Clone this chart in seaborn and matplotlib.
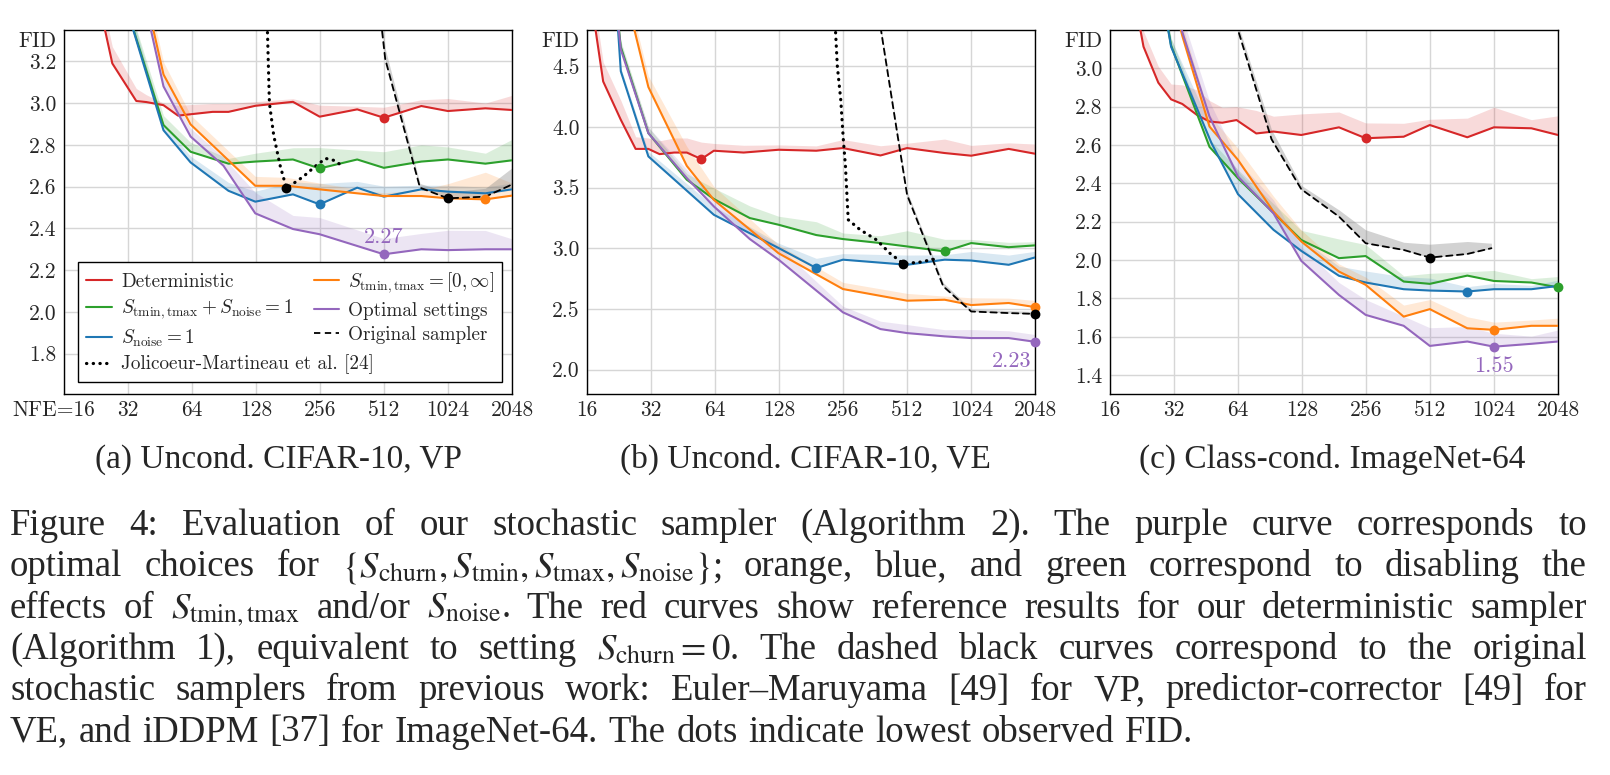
"""Stochastic sampler evaluation: FID vs NFE for three setups, with caption."""

import re

import matplotlib
matplotlib.use("Agg")
import matplotlib.pyplot as plt
import matplotlib.transforms as mtransforms
import numpy as np
import seaborn as sns
from matplotlib.lines import Line2D

# --------------------------------------------------------------------------- #
# Data
# --------------------------------------------------------------------------- #
NFE_TICKS = [16, 32, 64, 128, 256, 512, 1024, 2048]

# (a) Uncond. CIFAR-10, VP
A_RED_NFE = [19, 27, 35, 39, 47, 55, 80, 95, 127, 191, 255, 383, 511, 767, 1023, 1535, 2047]
A_RED_FID = [3.90, 3.19, 3.01, 3.005, 2.99, 2.94, 2.958, 2.958, 2.987, 3.006, 2.935, 2.97, 2.93,
             2.986, 2.962, 2.975, 2.967]
A_RED_SPREAD = [0.08, 0.08, 0.06, 0.035, 0.01, 0.05, 0.04, 0.04, 0.02, 0.015, 0.055, 0.015, 0.05,
                0.03, 0.06, 0.025, 0.07]

A_GREEN_NFE = [27, 31, 47, 63, 95, 127, 191, 255, 383, 511, 767, 1023, 1535, 2047]
A_GREEN_FID = [3.90, 3.48, 2.895, 2.767, 2.71, 2.72, 2.73, 2.687, 2.73, 2.69, 2.72, 2.73, 2.71, 2.726]
A_GREEN_SPREAD = [0.05, 0.05, 0.045, 0.045, 0.025, 0.04, 0.056, 0.1, 0.045, 0.077, 0.08, 0.06, 0.05, 0.1]

A_BLUE_NFE = [27, 31, 47, 63, 95, 127, 191, 255, 383, 511, 767, 1023, 1535, 2047]
A_BLUE_FID = [3.90, 3.48, 2.87, 2.716, 2.58, 2.528, 2.563, 2.515, 2.595, 2.552, 2.587, 2.576, 2.568, 2.587]
A_BLUE_SPREAD = [0.05, 0.05, 0.03, 0.03, 0.04, 0.05, 0.06, 0.1, 0.03, 0.05, 0.02, 0.03, 0.03, 0.03]

A_ORANGE_NFE = [31, 39, 47, 63, 127, 179, 255, 383, 511, 767, 1023, 1535, 2047]
A_ORANGE_FID = [3.90, 3.50, 3.137, 2.898, 2.604, 2.604, 2.587, 2.568, 2.555, 2.555, 2.544, 2.539, 2.557]
A_ORANGE_SPREAD = [0.06, 0.06, 0.06, 0.045, 0.045, 0.04, 0.03, 0.02, 0.015, 0.03, 0.07, 0.13, 0.06]

A_PURPLE_NFE = [31, 39, 47, 63, 90, 127, 191, 255, 511, 767, 1023, 1535, 2047]
A_PURPLE_FID = [4.00, 3.45, 3.08, 2.84, 2.70, 2.472, 2.397, 2.372, 2.276, 2.30, 2.296, 2.30, 2.30]
A_PURPLE_SPREAD = [0.05, 0.05, 0.05, 0.04, 0.04, 0.10, 0.065, 0.08, 0.075, 0.076, 0.095, 0.09, 0.05]

A_JM_NFE = [140, 148, 155, 166, 178, 213, 245, 272, 300, 329]
A_JM_FID = [3.90, 3.00, 2.847, 2.703, 2.592, 2.647, 2.70, 2.735, 2.725, 2.695]

A_ORIG_NFE = [470, 519, 756, 1023, 1535, 2047]
A_ORIG_FID = [3.60, 3.21, 2.595, 2.544, 2.552, 2.61]
A_ORIG_SPREAD = [0.05, 0.05, 0.02, 0.03, 0.04, 0.08]

# (b) Uncond. CIFAR-10, VE
B_RED_NFE = [17, 19, 23, 27, 31, 35, 41, 47, 55, 63, 87, 127, 191, 255, 383, 511, 767, 1023, 1535, 2047]
B_RED_FID = [4.95, 4.376, 4.06, 3.82, 3.82, 3.777, 3.79, 3.79, 3.736, 3.805, 3.79, 3.813, 3.805, 3.827,
             3.766, 3.827, 3.786, 3.764, 3.82, 3.78]
B_RED_SPREAD = [0.16, 0.16, 0.16, 0.1, 0.09, 0.11, 0.12, 0.12, 0.14, 0.06, 0.06, 0.04, 0.04, 0.07,
                0.08, 0.04, 0.115, 0.085, 0.05, 0.08]

B_GREEN_NFE = [21, 23, 31, 47, 63, 93, 127, 191, 255, 383, 511, 767, 1023, 1535, 2047]
B_GREEN_FID = [5.30, 4.66, 3.95, 3.566, 3.407, 3.25, 3.195, 3.11, 3.077, 3.044, 3.016, 2.975, 3.044,
               3.01, 3.025]
B_GREEN_SPREAD = [0.05, 0.05, 0.05, 0.05, 0.09, 0.10, 0.07, 0.11, 0.05, 0.06, 0.13, 0.10, 0.03, 0.04, 0.03]

B_BLUE_NFE = [21, 23, 31, 63, 127, 191, 255, 511, 767, 1023, 1535, 2047]
B_BLUE_FID = [5.50, 4.46, 3.758, 3.277, 3.003, 2.838, 2.907, 2.865, 2.907, 2.90, 2.865, 2.926]
B_BLUE_SPREAD = [0.03, 0.03, 0.04, 0.07, 0.04, 0.08, 0.05, 0.08, 0.04, 0.075, 0.08, 0.05]

B_ORANGE_NFE = [25, 31, 47, 63, 127, 255, 511, 767, 1023, 1535, 2047]
B_ORANGE_FID = [5.00, 4.33, 3.68, 3.40, 2.96, 2.665, 2.569, 2.577, 2.533, 2.55, 2.516]
B_ORANGE_SPREAD = [0.09, 0.09, 0.16, 0.11, 0.07, 0.055, 0.06, 0.03, 0.06, 0.04, 0.055]

B_PURPLE_NFE = [21, 23, 31, 47, 63, 93, 127, 255, 383, 511, 767, 1023, 1535, 2047]
B_PURPLE_FID = [5.30, 4.64, 3.95, 3.58, 3.346, 3.077, 2.907, 2.473, 2.335, 2.302, 2.275, 2.261, 2.261, 2.23]
B_PURPLE_SPREAD = [0.05, 0.05, 0.05, 0.07, 0.06, 0.09, 0.11, 0.05, 0.065, 0.07, 0.055, 0.07, 0.06, 0.06]

B_JM_NFE = [232, 240, 249, 256, 262, 267, 270, 307, 367, 424, 491, 588, 690]
B_JM_FID = [5.00, 4.50, 4.225, 3.90, 3.68, 3.40, 3.236, 3.154, 3.07, 2.96, 2.874, 2.887, 2.912]

B_ORIG_NFE = [370, 385, 459, 511, 756, 1023, 1535, 2047]
B_ORIG_FID = [5.00, 4.80, 3.95, 3.44, 2.687, 2.48, 2.467, 2.46]
B_ORIG_SPREAD = [0.03, 0.03, 0.03, 0.03, 0.03, 0.02, 0.02, 0.02]

# (c) Class-cond. ImageNet-64
C_RED_NFE = [21, 23, 27, 31, 35, 41, 47, 54, 63, 78, 94, 127, 191, 255, 385, 511, 767, 1023, 1535, 2047]
C_RED_FID = [3.35, 3.113, 2.925, 2.838, 2.814, 2.757, 2.722, 2.716, 2.73, 2.66, 2.67, 2.652, 2.692,
             2.635, 2.643, 2.704, 2.64, 2.692, 2.687, 2.652]
C_RED_SPREAD = [0.08, 0.08, 0.085, 0.08, 0.1, 0.13, 0.11, 0.08, 0.07, 0.12, 0.08, 0.11, 0.08, 0.08,
                0.07, 0.03, 0.10, 0.105, 0.045, 0.10]

C_GREEN_NFE = [27, 31, 47, 64, 127, 191, 255, 385, 511, 767, 1023, 1535, 2047]
C_GREEN_FID = [3.50, 3.12, 2.59, 2.426, 2.104, 2.009, 2.02, 1.887, 1.875, 1.918, 1.89, 1.882, 1.857]
C_GREEN_SPREAD = [0.04, 0.04, 0.04, 0.045, 0.05, 0.10, 0.06, 0.03, 0.055, 0.02, 0.055, 0.02, 0.056]

C_BLUE_NFE = [27, 31, 48, 64, 94, 127, 191, 255, 385, 511, 767, 1023, 1535, 2047]
C_BLUE_FID = [3.50, 3.113, 2.61, 2.343, 2.157, 2.047, 1.917, 1.882, 1.847, 1.84, 1.835, 1.847, 1.847, 1.864]
C_BLUE_SPREAD = [0.04, 0.04, 0.08, 0.12, 0.10, 0.065, 0.05, 0.06, 0.065, 0.065, 0.025, 0.03, 0.02, 0.03]

C_ORANGE_NFE = [31, 35, 47, 64, 94, 127, 191, 255, 385, 511, 767, 1023, 1535, 2047]
C_ORANGE_FID = [3.40, 3.17, 2.696, 2.522, 2.252, 2.096, 1.939, 1.87, 1.704, 1.743, 1.643, 1.635, 1.656, 1.656]
C_ORANGE_SPREAD = [0.06, 0.06, 0.06, 0.06, 0.08, 0.06, 0.04, 0.04, 0.06, 0.05, 0.06, 0.04, 0.03, 0.04]

C_PURPLE_NFE = [31, 35, 47, 64, 94, 127, 191, 255, 385, 511, 767, 1023, 1535, 2047]
C_PURPLE_FID = [3.50, 3.19, 2.748, 2.435, 2.243, 1.995, 1.817, 1.713, 1.656, 1.551, 1.574, 1.547, 1.562, 1.574]
C_PURPLE_SPREAD = [0.08, 0.08, 0.08, 0.08, 0.07, 0.075, 0.065, 0.08, 0.05, 0.095, 0.078, 0.07, 0.04, 0.06]

C_ORIG_NFE = [60, 64, 92, 127, 191, 255, 385, 511, 767, 996]
C_ORIG_FID = [3.35, 3.20, 2.63, 2.369, 2.226, 2.087, 2.052, 2.012, 2.031, 2.061]
C_ORIG_SPREAD = [0.03, 0.03, 0.05, 0.02, 0.035, 0.07, 0.04, 0.07, 0.065, 0.026]

BEST_LABELS = ["2.27", "2.23", "1.55"]
SUBCAPTIONS = ["(a) Uncond. CIFAR-10, VP", "(b) Uncond. CIFAR-10, VE", "(c) Class-cond. ImageNet-64"]

CAPTION = [
    "Figure 4:  Evaluation of our stochastic sampler (Algorithm 2). The purple curve corresponds to",
    r"optimal choices for $\{S_{\mathrm{churn}}, S_{\mathrm{tmin}}, S_{\mathrm{tmax}}, S_{\mathrm{noise}}\}$;"
    r" orange, blue, and green correspond to disabling the",
    r"effects of $S_{\mathrm{tmin,tmax}}$ and/or $S_{\mathrm{noise}}$. The red curves show reference"
    r" results for our deterministic sampler",
    r"(Algorithm 1), equivalent to setting $S_{\mathrm{churn}} = 0$. The dashed black curves"
    r" correspond to the original",
    "stochastic samplers from previous work: Euler\u2013Maruyama [49] for VP, predictor-corrector [49] for",
    "VE, and iDDPM [37] for ImageNet-64. The dots indicate lowest observed FID.",
]

RED, GREEN, BLUE = "#d62728", "#2ca02c", "#1f77b4"
ORANGE, PURPLE = "#ff7f0e", "#9467bd"
DOTTED = (0, (0.1, 2.0))
DASHED = (0, (3.5, 2.5))

TICK_FONT = "cmr10"
SERIF = "Liberation Serif"
FS = 15.5        # tick labels, "FID"
LEG_FS = 13.8    # legend entries
NOTE_FS = 16     # best-FID annotations


# --------------------------------------------------------------------------- #
# Helpers
# --------------------------------------------------------------------------- #
def draw_series(ax, nfe, fid, spread, color, style="-", lw=1.5, band="same"):
    nfe = np.asarray(nfe, float)
    fid = np.asarray(fid, float)
    if spread is not None:
        bc, ba = (color, 0.17) if band == "same" else ("#7f7f7f", 0.35)
        ax.fill_between(nfe, fid, fid + np.asarray(spread), color=bc, alpha=ba,
                        lw=0, zorder=1)
    sns.lineplot(x=nfe, y=fid, ax=ax, color=color, lw=lw, linestyle=style,
                 dash_capstyle="round", legend=False, zorder=3,
                 estimator=None, sort=False)
    i = int(np.argmin(fid))
    ax.scatter([nfe[i]], [fid[i]], s=50, color=color, zorder=6,
               clip_on=False, linewidths=0)
    return nfe[i], fid[i]


def setup_axes(ax, ylim, yticks, first_tick="16"):
    ax.set_xscale("log", base=2)
    ax.set_xlim(16, 2048)
    ax.set_ylim(*ylim)
    ax.set_xticks(NFE_TICKS)
    ax.set_xticklabels([first_tick] + [str(t) for t in NFE_TICKS[1:]])
    ax.minorticks_off()
    ax.set_yticks(yticks)
    ax.set_yticklabels([f"{t:.1f}" for t in yticks])
    ax.set_axisbelow(True)
    ax.grid(True, which="major", color="#d6d6d6", lw=1.0)
    ax.tick_params(axis="both", length=0, labelsize=FS)
    ax.tick_params(axis="x", pad=4.5)
    ax.tick_params(axis="y", pad=5.5)
    for lab in ax.get_xticklabels() + ax.get_yticklabels():
        lab.set_family(TICK_FONT)
    for s in ax.spines.values():
        s.set_color("black")
        s.set_linewidth(1.0)
    ax.set_xlabel("")
    ax.set_ylabel("")
    ax.annotate("FID", xy=(0, 1), xycoords="axes fraction", xytext=(-5.5, -1),
                textcoords="offset points", ha="right", va="top",
                fontsize=FS, family=TICK_FONT)


def justified_caption(fig, lines, left, right, first_base, step, size):
    r = fig.canvas.get_renderer()
    W, H = fig.bbox.width, fig.bbox.height
    kw = dict(fontsize=size, family=SERIF, math_fontfamily="stix", va="baseline", ha="left")
    p1 = fig.text(0, 0, "a a", **kw)
    p2 = fig.text(0, 0, "aa", **kw)
    space = p1.get_window_extent(r).width - p2.get_window_extent(r).width
    p1.remove()
    p2.remove()
    for k, line in enumerate(lines):
        words = re.findall(r"(?:\$[^$]*\$|[^\s$])+", line)
        y = 1 - (first_base + k * step) / H
        arts = [fig.text(0, y, w, **kw) for w in words]
        widths = [a.get_window_extent(r).width for a in arts]
        if k < len(lines) - 1:
            gap = (right - left - sum(widths)) / (len(words) - 1)
        else:
            gap = space * 1.15
        x = left
        for a, w in zip(arts, widths):
            a.set_x(x / W)
            x += w + gap


# --------------------------------------------------------------------------- #
# Figure
# --------------------------------------------------------------------------- #
sns.set_theme(style="whitegrid")
plt.rcParams["font.family"] = [TICK_FONT, "DejaVu Serif"]
plt.rcParams["mathtext.fontset"] = "cm"
plt.rcParams["axes.unicode_minus"] = False
plt.rcParams["axes.formatter.use_mathtext"] = True

W_PX, H_PX = 1610, 775
fig = plt.figure(figsize=(W_PX / 100, H_PX / 100), dpi=100)
fig.patch.set_facecolor("white")

AX_TOP, AX_BOT, AX_W = 30, 394, 448
lefts = [64, 587.3, 1110]
axes = [fig.add_axes([l / W_PX, 1 - AX_BOT / H_PX, AX_W / W_PX, (AX_BOT - AX_TOP) / H_PX])
        for l in lefts]
ax_a, ax_b, ax_c = axes

# ---- (a)
setup_axes(ax_a, (1.607, 3.35), [1.8, 2.0, 2.2, 2.4, 2.6, 2.8, 3.0, 3.2], first_tick="NFE=16")
draw_series(ax_a, A_RED_NFE, A_RED_FID, A_RED_SPREAD, RED)
draw_series(ax_a, A_GREEN_NFE, A_GREEN_FID, A_GREEN_SPREAD, GREEN)
draw_series(ax_a, A_BLUE_NFE, A_BLUE_FID, A_BLUE_SPREAD, BLUE)
draw_series(ax_a, A_ORANGE_NFE, A_ORANGE_FID, A_ORANGE_SPREAD, ORANGE)
pa = draw_series(ax_a, A_PURPLE_NFE, A_PURPLE_FID, A_PURPLE_SPREAD, PURPLE)
draw_series(ax_a, A_JM_NFE, A_JM_FID, None, "black", style=DOTTED, lw=2.3)
draw_series(ax_a, A_ORIG_NFE, A_ORIG_FID, A_ORIG_SPREAD, "black", style=DASHED, lw=1.3, band="gray")
ax_a.annotate(BEST_LABELS[0], xy=pa, xytext=(0, 8), textcoords="offset points",
              ha="center", va="baseline", color=PURPLE, fontsize=NOTE_FS, family=TICK_FONT)
lab0 = ax_a.get_xticklabels()[0]
lab0.set_transform(lab0.get_transform()
                   + mtransforms.ScaledTranslation(-10 / 100, 0, fig.dpi_scale_trans))

# ---- (b)
setup_axes(ax_b, (1.80, 4.80), [2.0, 2.5, 3.0, 3.5, 4.0, 4.5])
draw_series(ax_b, B_RED_NFE, B_RED_FID, B_RED_SPREAD, RED)
draw_series(ax_b, B_GREEN_NFE, B_GREEN_FID, B_GREEN_SPREAD, GREEN)
draw_series(ax_b, B_BLUE_NFE, B_BLUE_FID, B_BLUE_SPREAD, BLUE)
draw_series(ax_b, B_ORANGE_NFE, B_ORANGE_FID, B_ORANGE_SPREAD, ORANGE)
pb = draw_series(ax_b, B_PURPLE_NFE, B_PURPLE_FID, B_PURPLE_SPREAD, PURPLE)
draw_series(ax_b, B_JM_NFE, B_JM_FID, None, "black", style=DOTTED, lw=2.3)
draw_series(ax_b, B_ORIG_NFE, B_ORIG_FID, B_ORIG_SPREAD, "black", style=DASHED, lw=1.3, band="gray")
ax_b.annotate(BEST_LABELS[1], xy=pb, xytext=(-3, -18), textcoords="offset points",
              ha="right", va="baseline", color=PURPLE, fontsize=NOTE_FS, family=TICK_FONT)

# ---- (c)
setup_axes(ax_c, (1.30, 3.20), [1.4, 1.6, 1.8, 2.0, 2.2, 2.4, 2.6, 2.8, 3.0])
draw_series(ax_c, C_RED_NFE, C_RED_FID, C_RED_SPREAD, RED)
draw_series(ax_c, C_GREEN_NFE, C_GREEN_FID, C_GREEN_SPREAD, GREEN)
draw_series(ax_c, C_BLUE_NFE, C_BLUE_FID, C_BLUE_SPREAD, BLUE)
draw_series(ax_c, C_ORANGE_NFE, C_ORANGE_FID, C_ORANGE_SPREAD, ORANGE)
pc = draw_series(ax_c, C_PURPLE_NFE, C_PURPLE_FID, C_PURPLE_SPREAD, PURPLE)
draw_series(ax_c, C_ORIG_NFE, C_ORIG_FID, C_ORIG_SPREAD, "black", style=DASHED, lw=1.3, band="gray")
ax_c.annotate(BEST_LABELS[2], xy=pc, xytext=(0, -18), textcoords="offset points",
              ha="center", va="baseline", color=PURPLE, fontsize=NOTE_FS, family=TICK_FONT)

# ---- legend in (a): Jolicoeur label drawn over an empty slot so the
# columns keep their original widths
handles = [
    Line2D([], [], color=RED, lw=1.5),
    Line2D([], [], color=GREEN, lw=1.5),
    Line2D([], [], color=BLUE, lw=1.5),
    Line2D([], [], color="black", lw=2.3, linestyle=DOTTED, dash_capstyle="round"),
    Line2D([], [], color=ORANGE, lw=1.5),
    Line2D([], [], color=PURPLE, lw=1.5),
    Line2D([], [], color="black", lw=1.3, linestyle=DASHED),
    Line2D([], [], alpha=0),
]
labels = [
    "Deterministic",
    r"$S_{\mathrm{tmin,tmax}} + S_{\mathrm{noise}} = 1$",
    r"$S_{\mathrm{noise}} = 1$",
    "",
    r"$S_{\mathrm{tmin,tmax}} = [0, \infty]$",
    "Optimal settings",
    "Original sampler",
    "",
]
leg = ax_a.legend(handles, labels, ncol=2, loc="lower left",
                  bbox_to_anchor=(0.032, 0.034, 0.946, 0.316), mode="expand",
                  borderaxespad=0, frameon=True, fancybox=False, framealpha=1,
                  edgecolor="black", prop={"family": TICK_FONT, "size": LEG_FS},
                  handlelength=1.35, handletextpad=0.45, labelspacing=0.34,
                  borderpad=0.42)
leg.get_frame().set_linewidth(1.0)
ax_a.annotate("Jolicoeur-Martineau et al. [24]", xy=(0, 0), xycoords=leg.get_texts()[3],
              ha="left", va="baseline", fontsize=LEG_FS, family=TICK_FONT, zorder=7,
              annotation_clip=False)

# ---- sub-captions and caption
SUB_CENTERS = [278, 805, 1332]
for cx, sub in zip(SUB_CENTERS, SUBCAPTIONS):
    fig.text(cx / W_PX, 1 - 468 / H_PX, sub, ha="center", va="baseline",
             fontsize=24, family=SERIF)

justified_caption(fig, CAPTION, left=10, right=1587, first_base=535, step=41.3, size=26.5)

fig.savefig("out.png", dpi=100, facecolor="white")
